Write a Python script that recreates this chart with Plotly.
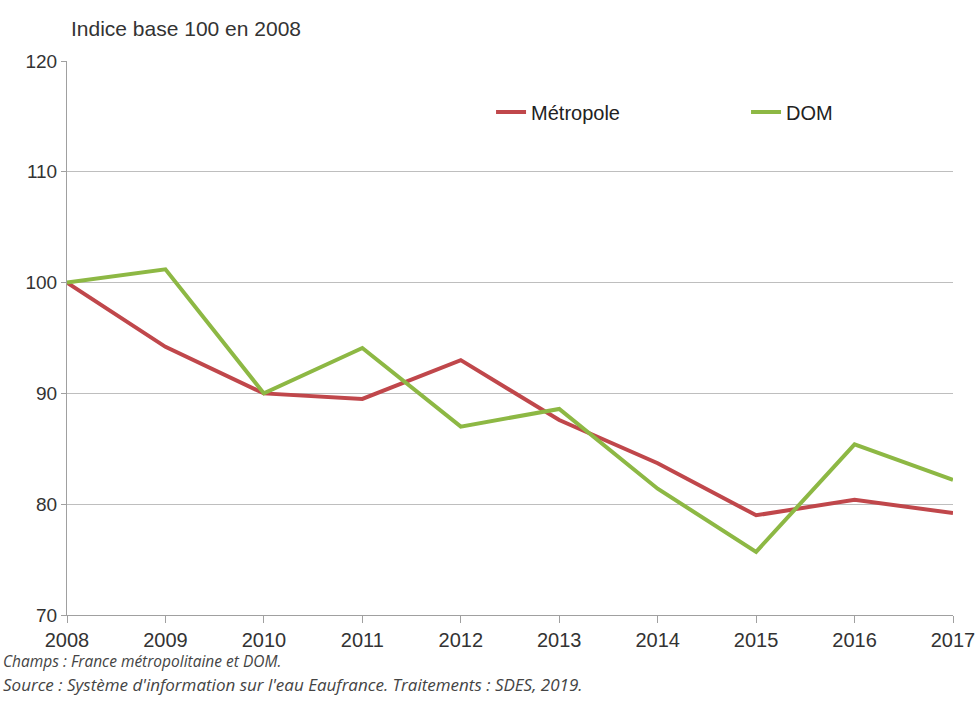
import plotly.graph_objects as go

# data
annees = [2008, 2009, 2010, 2011, 2012, 2013, 2014, 2015, 2016, 2017]
metropole = [100, 94.2, 90.0, 89.5, 93.0, 87.6, 83.7, 79.0, 80.4, 79.2]
dom = [100, 101.2, 90.0, 94.1, 87.0, 88.6, 81.4, 75.7, 85.4, 82.2]
y_ticks = [70, 80, 90, 100, 110, 120]

rouge = '#C0474B'
vert = '#8DB844'
grille = '#BEBEBE'
police = 'Liberation Sans, Arial, sans-serif'

fig = go.Figure()

# each series gets its own legend box, so they can sit apart like the original
fig.add_trace(go.Scatter(
    x=annees, y=metropole, name='Métropole', mode='lines',
    line=dict(color=rouge, width=4), legend='legend'
))
fig.add_trace(go.Scatter(
    x=annees, y=dom, name='DOM', mode='lines',
    line=dict(color=vert, width=4), legend='legend2'
))

leg = dict(
    orientation='h', y=0.908, yanchor='middle', xanchor='left',
    font=dict(size=20, color='#222222'), bgcolor='rgba(0,0,0,0)', itemwidth=30
)

fig.update_layout(
    width=979, height=704,
    paper_bgcolor='white', plot_bgcolor='white',
    margin=dict(l=67, r=26, t=61, b=89),
    font=dict(family=police, color='#333333', size=20),
    showlegend=True,
    legend=dict(leg, x=0.4786),
    legend2=dict(leg, x=0.7664),
    xaxis=dict(
        range=[2008, 2017], tickvals=annees, ticktext=[str(a) for a in annees],
        showgrid=False, showline=True, linecolor='#A0A0A0', linewidth=1,
        ticks='outside', ticklen=7, tickcolor='#A0A0A0', automargin=False,
        tickfont=dict(size=20, color='#333333'), zeroline=False
    ),
    yaxis=dict(
        range=[70, 120], tickvals=y_ticks,
        showgrid=True, gridcolor=grille, gridwidth=1,
        showline=True, linecolor='#A0A0A0', linewidth=1,
        ticks='outside', ticklen=5, tickcolor='#A0A0A0', automargin=False,
        tickfont=dict(size=19, color='#333333'), zeroline=False
    ),
    annotations=[
        dict(text='Indice base 100 en 2008', xref='paper', yref='paper',
             x=0, xshift=2, y=1.0, yshift=33, xanchor='left', yanchor='middle',
             showarrow=False, font=dict(size=21, color='#333333')),
        dict(text='<i>Champs : France métropolitaine et DOM.</i>', xref='paper', yref='paper',
             x=0, xshift=-66, y=0, yshift=-46, xanchor='left', yanchor='middle',
             showarrow=False, font=dict(size=15.5, color='#444444', family='Open Sans, sans-serif')),
        dict(text="<i>Source : Système d'information sur l'eau Eaufrance. Traitements : SDES, 2019.</i>",
             xref='paper', yref='paper',
             x=0, xshift=-66, y=0, yshift=-69, xanchor='left', yanchor='middle',
             showarrow=False, font=dict(size=17, color='#444444', family='Open Sans, sans-serif')),
    ]
)

# drop the page's default body margin so the figure sits at the window's corner
fig.write_html('out.html', config={'displayModeBar': False},
               post_script="document.body.style.margin='0';")
